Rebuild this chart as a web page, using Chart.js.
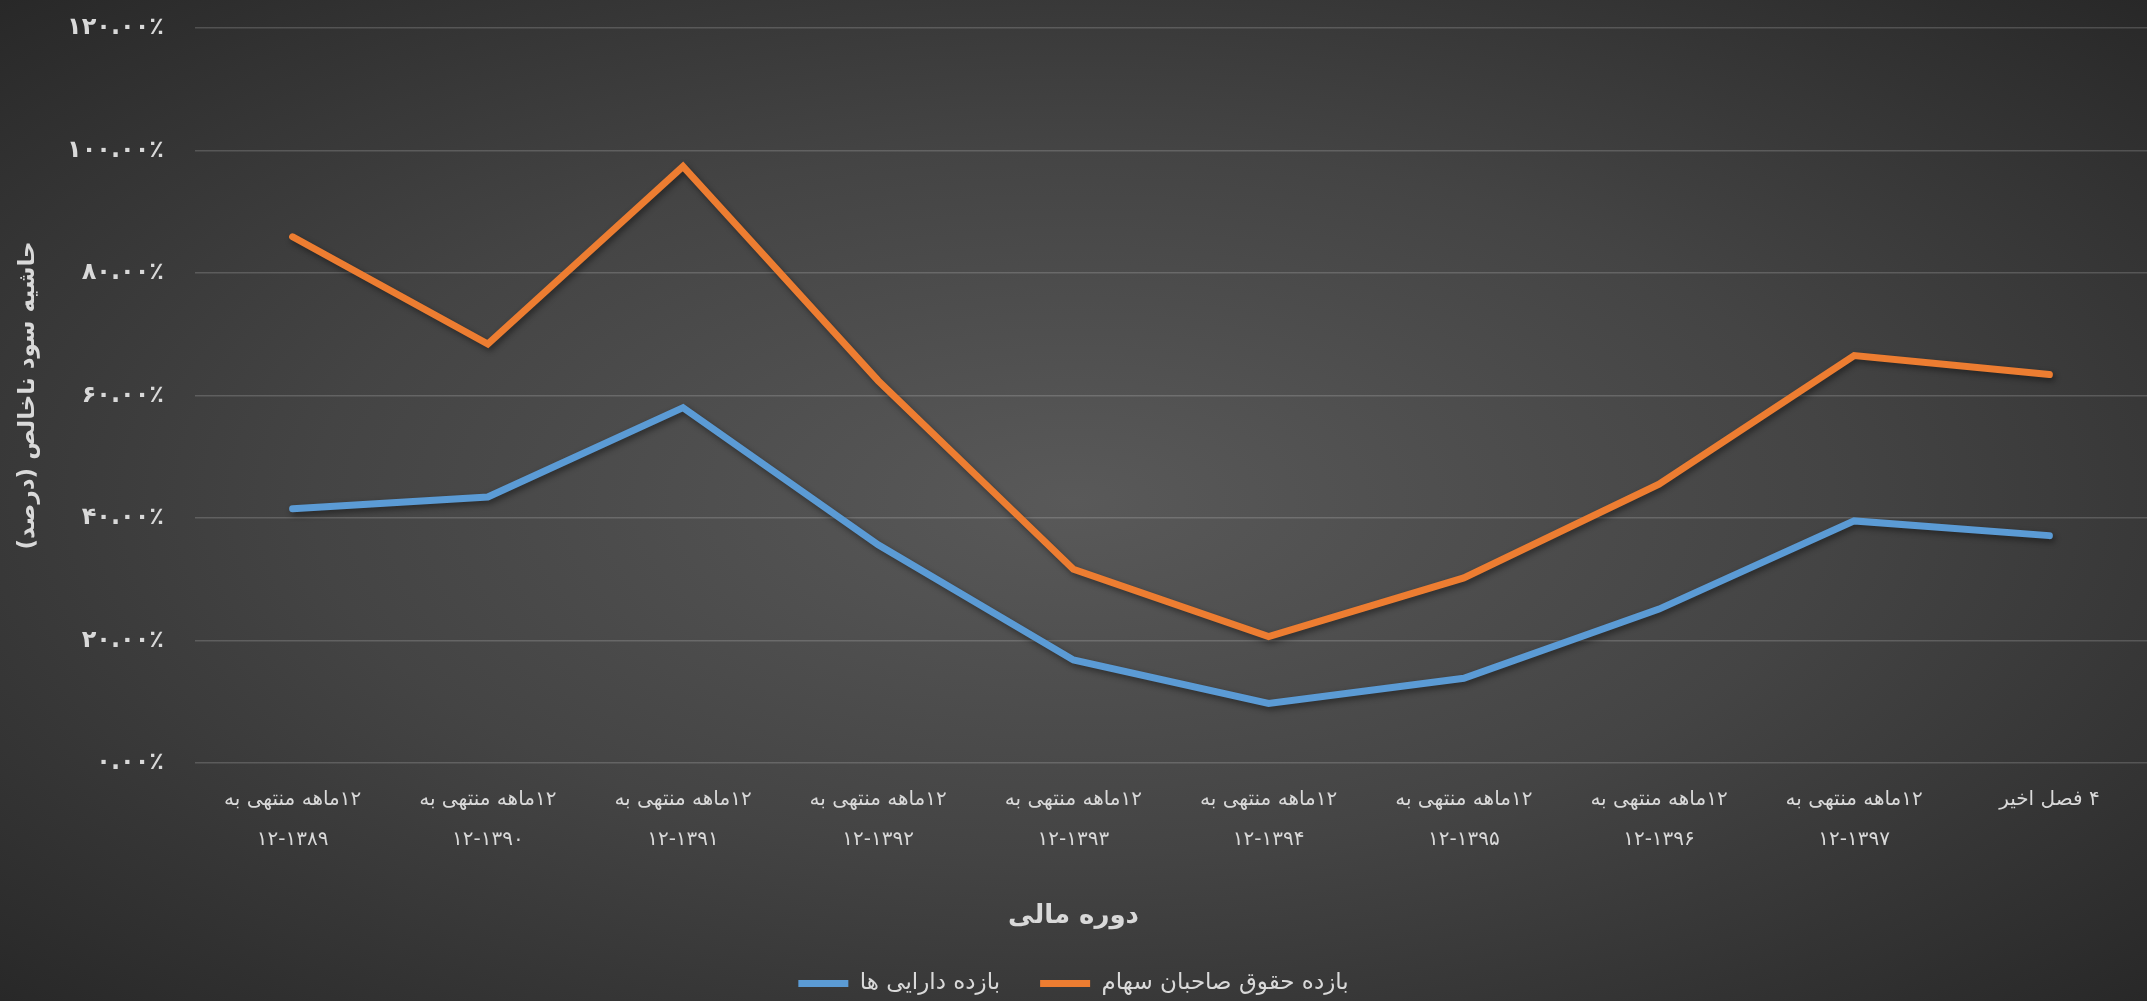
<!DOCTYPE html>
<html lang="fa">
<head>
<meta charset="utf-8">
<title>حاشیه سود ناخالص</title>
<script src="https://cdn.jsdelivr.net/npm/chart.js@4.4.1/dist/chart.umd.min.js"></script>
<style>
    html, body {
        margin: 0;
        padding: 0;
        overflow: hidden;
    }
    body {
        width: 2147px;
        height: 1001px;
        background: radial-gradient(ellipse farthest-corner at 50% 50%, #595959 0%, #444444 50%, #282828 100%);
    }
    canvas {
        display: block;
    }
</style>
</head>
<body>
<canvas id="marginChart" width="2147" height="1001" dir="rtl"></canvas>
<script>
const periodLabels = [
    ['۱۲ماهه منتهی به', '۱۲-۱۳۸۹'],
    ['۱۲ماهه منتهی به', '۱۲-۱۳۹۰'],
    ['۱۲ماهه منتهی به', '۱۲-۱۳۹۱'],
    ['۱۲ماهه منتهی به', '۱۲-۱۳۹۲'],
    ['۱۲ماهه منتهی به', '۱۲-۱۳۹۳'],
    ['۱۲ماهه منتهی به', '۱۲-۱۳۹۴'],
    ['۱۲ماهه منتهی به', '۱۲-۱۳۹۵'],
    ['۱۲ماهه منتهی به', '۱۲-۱۳۹۶'],
    ['۱۲ماهه منتهی به', '۱۲-۱۳۹۷'],
    ['۴ فصل اخیر']
];

// values in percent
const assetReturn = [41.5, 43.4, 58.0, 35.6, 16.8, 9.7, 13.8, 25.1, 39.5, 37.1];
const equityReturn = [85.9, 68.4, 97.4, 62.4, 31.6, 20.6, 30.2, 45.5, 66.5, 63.4];

const yTicksMin = 0;
const yTicksMax = 120;
const yTicksStep = 20;

const faDigits = '۰۱۲۳۴۵۶۷۸۹';
function toFa(str) {
    return String(str).replace(/\d/g, d => faDigits[d]);
}

const textColor = '#d9d9d9';
const fontFamily = "'DejaVu Sans', 'Noto Sans', sans-serif";

// soft drop shadow under the lines
const lineShadow = {
    id: 'lineShadow',
    beforeDatasetDraw(chart) {
        const ctx = chart.ctx;
        ctx.save();
        ctx.shadowColor = 'rgba(0, 0, 0, 0.45)';
        ctx.shadowBlur = 6;
        ctx.shadowOffsetX = 2;
        ctx.shadowOffsetY = 3;
    },
    afterDatasetDraw(chart) {
        chart.ctx.restore();
    }
};

window.onload = function () {
    new Chart(document.getElementById('marginChart'), {
        type: 'line',
        data: {
            labels: periodLabels,
            datasets: [{
                label: 'بازده دارایی ها',
                data: assetReturn,
                borderColor: '#5B9BD5',
                backgroundColor: '#5B9BD5',
                borderWidth: 7,
                borderCapStyle: 'round',
                borderJoinStyle: 'miter',
                pointRadius: 0,
                tension: 0
            }, {
                label: 'بازده حقوق صاحبان سهام',
                data: equityReturn,
                borderColor: '#ED7D31',
                backgroundColor: '#ED7D31',
                borderWidth: 7,
                borderCapStyle: 'round',
                borderJoinStyle: 'miter',
                pointRadius: 0,
                tension: 0
            }]
        },
        options: {
            responsive: false,
            animation: false,
            layout: {
                padding: { top: 28, right: 0, bottom: -4, left: 0 }
            },
            scales: {
                x: {
                    offset: true,
                    grid: { display: false, drawTicks: false },
                    border: { display: false },
                    ticks: {
                        color: textColor,
                        padding: 17,
                        maxRotation: 0,
                        autoSkip: false,
                        font: { family: fontFamily, size: 20, lineHeight: 2.0 }
                    }
                },
                y: {
                    min: yTicksMin,
                    max: yTicksMax,
                    afterFit: scale => {
                        scale.width = 195;
                        scale.paddingTop = 0;
                    },
                    grid: {
                        color: 'rgba(255, 255, 255, 0.17)',
                        lineWidth: 1.5,
                        drawTicks: false
                    },
                    border: { display: false },
                    ticks: {
                        stepSize: yTicksStep,
                        color: textColor,
                        padding: 31,
                        font: { family: fontFamily, size: 24, weight: 'bold' },
                        callback: value => toFa(value.toFixed(2)) + '٪'
                    },
                    title: {
                        display: true,
                        text: 'حاشیه سود ناخالص (درصد)',
                        color: textColor,
                        padding: { top: 14, bottom: 0 },
                        font: { family: fontFamily, size: 23, weight: 'bold' }
                    }
                }
            },
            plugins: {
                title: {
                    display: true,
                    position: 'bottom',
                    weight: 500,
                    text: 'دوره مالی',
                    color: textColor,
                    padding: { top: 24, bottom: 0 },
                    font: { family: fontFamily, size: 26, weight: 'bold' }
                },
                legend: {
                    position: 'bottom',
                    labels: {
                        color: textColor,
                        padding: 40,
                        usePointStyle: true,
                        pointStyle: 'line',
                        pointStyleWidth: 50,
                        font: { family: fontFamily, size: 23 }
                    }
                },
                tooltip: { enabled: false }
            }
        },
        plugins: [lineShadow]
    });
};
</script>
</body>
</html>
